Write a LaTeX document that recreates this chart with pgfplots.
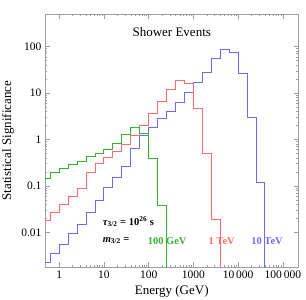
\documentclass[border=0pt]{standalone}
\usepackage{fontspec}
\setmainfont{Liberation Serif}
\usepackage{pgfplots}
\pgfplotsset{compat=1.18}
\definecolor{cgreen}{rgb}{0.2,0.7,0.2}
\definecolor{cred}{rgb}{1,0.42,0.42}
\definecolor{cblue}{rgb}{0.42,0.42,1}
\definecolor{framec}{gray}{0.62}
\begin{document}
\begin{tikzpicture}
\useasboundingbox (-45pt,-33pt) rectangle (261pt,267pt);
\begin{axis}[
  at={(0pt,0pt)}, anchor=south west,
  scale only axis, width=253.5pt, height=253pt,
  xmode=log, ymode=log,
  xmin=0.48, xmax=2.24e5, ymin=0.0018, ymax=500,
  axis line style={framec, line width=0.6pt},
  every tick/.style={framec, line width=0.5pt},
  major tick length=5pt, minor tick length=2.5pt,
  tick align=inside,
  xtick={1,10,100,1000,10000,100000},
  xticklabels={1,10,100,1000,10\,000,100\,000},
  ytick={0.01,0.1,1,10,100},
  yticklabels={0.01,0.1,1,10,100},
  /pgf/number format/assume math mode=true,
  ticklabel style={font=\fontsize{11.5}{13}\selectfont, black},
  xlabel={Energy (GeV)},
  ylabel={Statistical Significance},
  every axis x label/.style={at={(rel axis cs:0.5,-0.0976)}, anchor=center, font=\fontsize{13}{15}\selectfont},
  every axis y label/.style={at={(rel axis cs:-0.146,0.5)}, rotate=90, anchor=center, font=\fontsize{13}{15}\selectfont},
  clip=true,
]
\addplot[cblue, line width=1pt, const plot] coordinates {
(0.398107,0.0022) (0.630957,0.0035) (1,0.0056) (1.584893,0.0095) (2.511886,0.015)
(3.981072,0.027) (6.309573,0.048) (10,0.092) (15.84893,0.155) (25.11886,0.26)
(39.81072,0.64) (63.09573,1.2) (100,1.85) (158.4893,2.77) (251.1886,4.0)
(398.1072,6.1) (630.9573,10.0) (1000,16.5) (1584.893,28) (2511.886,54)
(3981.072,87) (6309.573,75) (10000,26) (15848.93,3.03) (25118.86,0.119)
(39810.72,0.119) (39810.72,0.0001)
};
\addplot[cred, line width=1pt, const plot] coordinates {
(0.398107,0.018) (0.630957,0.027) (1,0.040) (1.584893,0.058) (2.511886,0.086)
(3.981072,0.19) (6.309573,0.30) (10,0.40) (15.84893,0.55) (25.11886,0.78)
(39.81072,1.2) (63.09573,1.97) (100,3.57) (158.4893,6.6) (251.1886,12.1)
(398.1072,18.9) (630.9573,15.8) (1000,4.7) (1584.893,0.49) (2511.886,0.0185)
(3981.072,0.0185) (3981.072,0.0001)
};
\addplot[cgreen, line width=1pt, const plot] coordinates {
(0.398107,0.141) (0.630957,0.199) (1,0.238) (1.584893,0.29) (2.511886,0.34)
(3.981072,0.43) (6.309573,0.51) (10,0.61) (15.84893,0.80) (25.11886,1.25)
(39.81072,1.80) (63.09573,1.32) (100,0.38) (158.4893,0.0375) (251.1886,0.0375)
(251.1886,0.0001)
};
\node[font=\fontsize{13}{15}\selectfont] at (rel axis cs:0.5,0.928) {Shower Events};
\node[font=\fontsize{10.5}{12}\selectfont\bfseries, anchor=west] at (rel axis cs:0.214,0.179) {\textit{τ}\textsubscript{3/2} = 10\textsuperscript{26} s};
\node[font=\fontsize{10.5}{12}\selectfont\bfseries, anchor=west] at (rel axis cs:0.214,0.104) {\textit{m}\textsubscript{3/2} =};
\node[font=\fontsize{10.5}{12}\selectfont\bfseries, text=cgreen] at (rel axis cs:0.482,0.104) {100 GeV};
\node[font=\fontsize{10.5}{12}\selectfont\bfseries, text=cred] at (rel axis cs:0.697,0.104) {1 TeV};
\node[font=\fontsize{10.5}{12}\selectfont\bfseries, text=cblue] at (rel axis cs:0.876,0.104) {10 TeV};
\end{axis}
\end{tikzpicture}
\end{document}
